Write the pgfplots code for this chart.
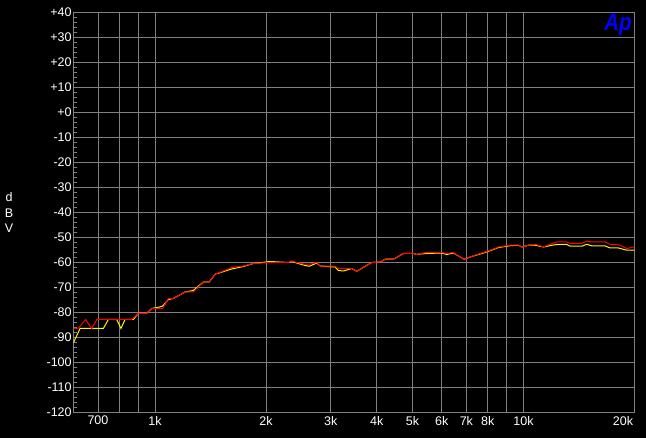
\documentclass[border=0pt]{standalone}
\usepackage{fontspec}
\setmainfont{Liberation Sans}
\usepackage{graphicx}
\usepackage{pgfplots}
\pgfplotsset{compat=1.18}
\definecolor{gridgray}{RGB}{128,128,128}
\definecolor{apblue}{RGB}{0,0,255}
\pgfplotstableread{
f db
600 -86.4
618 -86.4
648 -82.8
673 -86.4
695 -82.8
864 -82.8
901 -80.4
949 -80.4
979 -78.4
1049 -78.4
1087 -74.4
1121 -74.4
1206 -71.8
1270 -71.8
1352 -67.8
1404 -67.8
1455 -64.7
1615 -62.0
1737 -61.4
1850 -60.4
2052 -60.0
2301 -60.0
2350 -59.4
2425 -60.0
2554 -60.7
2624 -60.7
2748 -60.0
2805 -61.4
3081 -61.5
3145 -62.4
3420 -62.4
3529 -63.5
3876 -60.0
4083 -59.8
4212 -58.7
4437 -58.7
4723 -56.4
5028 -56.4
5136 -56.8
5243 -56.4
5467 -56.0
6004 -56.0
6194 -56.4
6455 -56.0
6661 -57.4
6902 -58.7
7166 -57.8
7630 -56.4
8121 -55.1
8554 -53.8
9204 -53.1
9694 -53.1
9902 -53.8
10319 -53.1
10761 -52.7
11334 -53.8
11944 -52.4
12323 -51.8
13117 -51.8
13391 -52.4
14408 -52.4
14866 -51.4
15338 -51.8
16670 -51.8
17199 -52.8
18115 -52.8
19089 -54.4
19893 -53.8
20000 -54.0
}\redtab
\pgfplotstableread{
f db
600 -92.2
626 -86.4
724 -86.4
747 -82.8
787 -82.8
808 -86.4
829 -82.8
873 -82.8
901 -80.4
949 -80.4
979 -78.4
1030 -77.8
1049 -77.4
1087 -74.8
1121 -74.4
1206 -71.8
1270 -71.2
1352 -67.8
1404 -67.8
1455 -64.7
1615 -62.6
1737 -61.6
1850 -60.4
2052 -59.6
2301 -60.0
2350 -59.6
2425 -60.2
2554 -61.2
2624 -61.5
2748 -60.2
2805 -61.4
3081 -61.8
3145 -63.2
3250 -63.4
3420 -62.4
3529 -63.5
3876 -60.0
4083 -59.8
4212 -58.7
4437 -58.7
4723 -56.4
5028 -56.4
5136 -56.8
5243 -56.6
5467 -56.4
6004 -56.2
6194 -56.8
6455 -56.2
6661 -57.4
6902 -58.7
7166 -57.8
7630 -56.6
8121 -55.3
8554 -54.0
9204 -53.3
9694 -53.1
9902 -53.8
10319 -53.1
10761 -53.1
11334 -53.8
11944 -53.1
12323 -52.8
13117 -52.8
13391 -53.5
14408 -53.5
14866 -52.7
15338 -53.4
16670 -53.4
17199 -54.2
18115 -54.2
19089 -55.1
20000 -55.1
}\yellowtab
\begin{document}
\begin{tikzpicture}
\path[use as bounding box, fill=black] (-73.3pt,-25.5pt) rectangle (572.7pt,412.5pt);
\begin{axis}[
  at={(0pt,0pt)}, anchor=south west,
  scale only axis, width=561pt, height=400pt,
  xmode=log, xmin=600, xmax=20000, ymin=-120, ymax=40,
  axis line style={gridgray, line width=0.8pt},
  xmajorgrids=true, xminorgrids=true, ymajorgrids=true, yminorgrids=false,
  major grid style={gridgray, line width=0.8pt},
  minor grid style={gridgray, line width=0.8pt},
  xtick={700,1000,2000,3000,4000,5000,6000,7000,8000,10000},
  xticklabels={700,1k,2k,3k,4k,5k,6k,7k,8k,10k},
  minor xtick={800,900,9000},
  extra x ticks={20000},
  extra x tick labels={20k},
  extra x tick style={xticklabel style={anchor=north east, inner sep=1pt, yshift=-3pt}},
  ytick={-120,-110,-100,-90,-80,-70,-60,-50,-40,-30,-20,-10,0,10,20,30,40},
  yticklabels={-120,-110,-100,-90,-80,-70,-60,-50,-40,-30,-20,-10,+0,+10,+20,+30,+40},
  minor y tick num=4,
  tick align=inside,
  ytick pos=left,
  major tick length=4pt, minor tick length=4pt,
  every tick/.style={gridgray, line width=0.8pt},
  tick label style={font=\fontsize{12.5}{14}\selectfont, text=white},
  yticklabel style={inner sep=1.5pt},
  /pgf/number format/assume math mode=true,
  clip=true,
]
\addplot[color=yellow, line width=1pt, mark=none] table[x=f, y=db] {\yellowtab};
\addplot[color=red, line width=1pt, mark=none] table[x=f, y=db] {\redtab};
\node[anchor=north east, inner sep=0pt, text=apblue,
      font=\bfseries\itshape\fontsize{24}{24}\selectfont]
  at (rel axis cs:1,1) [xshift=-2.5pt, yshift=-1pt] {\scalebox{0.85}[1]{Ap}};
\end{axis}
\node[align=center, text=white, inner sep=0pt,
      font=\fontsize{12.5}{15.5}\selectfont] at (-64.3pt,200pt) {d\\B\\V};
\end{tikzpicture}
\end{document}
